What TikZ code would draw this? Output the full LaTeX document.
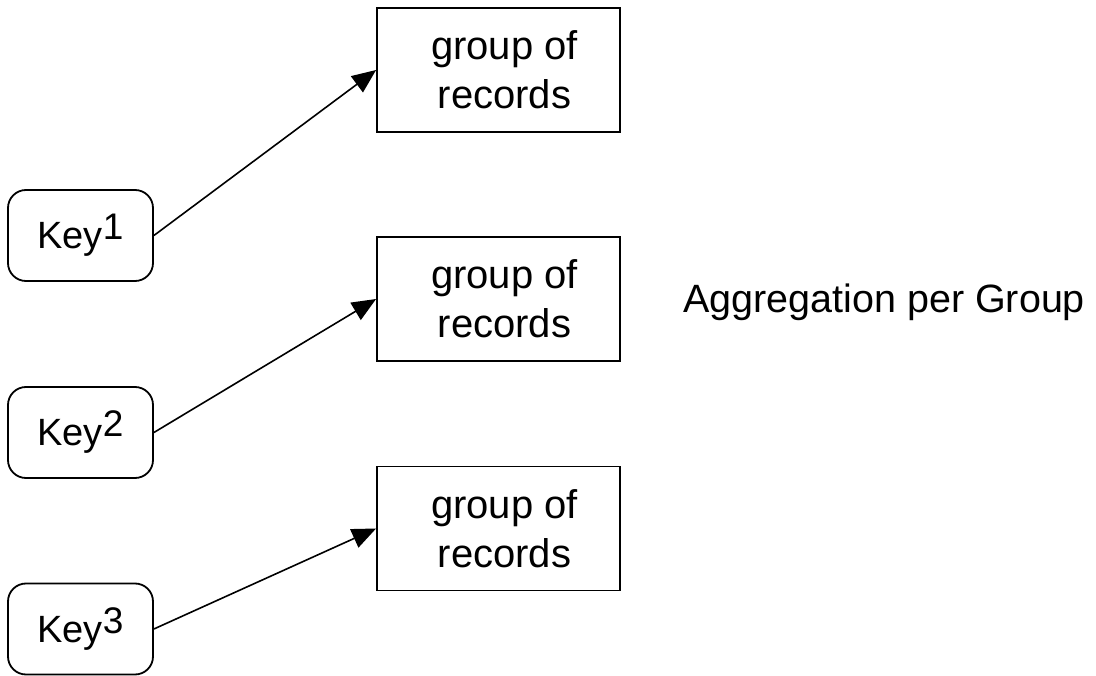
\documentclass[tikz,border=0pt]{standalone}
\usepackage{fontspec}
\setmainfont{Liberation Sans}
\usetikzlibrary{arrows.meta}
\newcommand{\keylabel}[1]{{\fontsize{38}{40}\selectfont Key}\raisebox{9pt}{\fontsize{37}{40}\selectfont #1}}
\tikzset{
  keybox/.style={draw, line width=1.8pt, rounded corners=18pt, minimum width=145pt, minimum height=91pt, inner sep=0pt},
  groupbox/.style={draw, line width=1.8pt, minimum width=243pt, minimum height=124pt, inner sep=0pt, align=center, font=\fontsize{40}{49}\selectfont},
  link/.style={line width=1.6pt, -{Triangle[length=24pt, width=20pt]}},
  plain/.style={inner sep=0pt, font=\fontsize{39.5}{48}\selectfont}
}
\begin{document}
\begin{tikzpicture}[x=1pt, y=-1pt]
\useasboundingbox (0,0) rectangle (1096,676);
\node[keybox] (k1) at (80.5,235.5) {\keylabel{1}};
\node[keybox] (k2) at (80.5,432.5) {\keylabel{2}};
\node[keybox] (k3) at (80.5,629) {\keylabel{3}};
\node[groupbox] (g1) at (498.5,70) {\hspace*{12pt}group of\\\hspace*{12pt}records};
\node[groupbox] (g2) at (498.5,299) {\hspace*{12pt}group of\\\hspace*{12pt}records};
\node[groupbox] (g3) at (498.5,528.5) {\hspace*{12pt}group of\\\hspace*{12pt}records};
\node[plain, anchor=base west] (agg) at (683,313) {Aggregation per Group};
\draw[link] (k1.east) -- (g1.west);
\draw[link] (k2.east) -- (g2.west);
\draw[link] (k3.east) -- (g3.west);
\end{tikzpicture}
\end{document}
